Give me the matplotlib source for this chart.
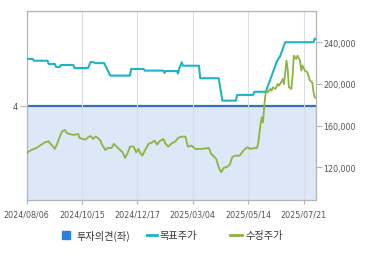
import matplotlib
matplotlib.use("Agg")
import matplotlib.pyplot as plt
from matplotlib.patches import Rectangle
from matplotlib.lines import Line2D

# ---- data (x = trading-day index from 2024/08/06) ----
tick_idx = [0, 45, 90, 135, 180, 225]
tick_labels = ["2024/08/06", "2024/10/15", "2024/12/17", "2025/03/04", "2025/05/14", "2025/07/21"]

rating_x = [0, 235]
rating_v = [4, 4]

target_x = [0, 5, 6, 17, 18, 23, 24, 27, 28, 38, 39, 50, 52, 54, 56, 63, 68, 84, 85, 95, 96,
            111, 112, 113, 122, 123, 124, 126, 127, 140, 141, 156, 159, 170, 171, 184, 185,
            194, 195, 200, 203, 206, 210, 233, 234, 235]
target_v = [224000, 224000, 222300, 222300, 219200, 219200, 216300, 216300, 218200, 218200,
            215300, 215300, 221000, 221000, 220000, 220000, 208000, 208000, 214400, 214400,
            212800, 212800, 210500, 212400, 212400, 210000, 215000, 220800, 217500, 217500,
            205500, 205500, 184000, 184000, 189500, 189500, 192500, 192500, 195000, 211000,
            221000, 227000, 240000, 240000, 243500, 243500]

price_x = [0, 4, 8, 12, 15, 18, 19, 21, 23, 25, 27, 29, 31, 33, 35, 38, 42, 43, 48, 50, 52,
           54, 56, 58, 60, 61, 64, 66, 69, 71, 73, 76, 78, 80, 82, 84, 87, 89, 91, 92, 94, 96,
           99, 102, 104, 106, 108, 111, 113, 115, 118, 121, 123, 126, 129, 131, 134, 137, 142,
           148, 150, 154, 156, 158, 160, 163, 165, 167, 169, 173, 176, 179, 182, 184, 187, 188,
           190, 191, 192, 193, 194, 195, 196, 198, 199, 200, 202, 204, 205, 207, 208, 209, 211,
           212, 213, 215, 216, 217, 219, 220, 222, 223, 224, 226, 228, 230, 232, 233, 234, 235]
price_v = [133800, 136700, 138600, 141800, 144000, 145000, 143100, 140800, 137700, 143100,
           149500, 154600, 155900, 152700, 152000, 151100, 152000, 148200, 146600, 148900,
           150100, 147300, 149500, 148200, 145600, 142500, 136700, 138600, 138600, 142500,
           139900, 136700, 134500, 129000, 133500, 139900, 139900, 134500, 137700, 134500,
           131200, 136000, 142500, 144100, 145600, 141800, 145000, 147300, 142500, 139900,
           143100, 145000, 148200, 149500, 149500, 139900, 140900, 137700, 137700, 138600,
           132900, 128100, 120100, 115300, 119400, 120700, 122600, 129700, 131200, 131200,
           136000, 139300, 137700, 138300, 138600, 142500, 161600, 168000, 163300, 179200,
           190400, 193600, 192000, 195200, 193600, 196800, 195200, 200000, 198400, 202200,
           204800, 200000, 222400, 214400, 196800, 195200, 208000, 227100, 224000, 227100,
           222400, 212800, 217600, 212800, 211200, 203200, 201600, 192000, 187200, 186600]

price_ticks = [120000, 160000, 200000, 240000]

# ---- styling ----
C_RATING = "#3a6fba"
C_FILL = "#dce7f7"
C_SQUARE = "#2d7ddb"
C_TARGET = "#1fb3c6"
C_PRICE = "#8cb43f"
C_SPINE = "#b4b4b4"
C_TEXT = "#555555"

fig = plt.figure(figsize=(3.7, 2.55), dpi=100)
ax = fig.add_axes([26.5 / 370, 1 - 201 / 255, (316 - 26.5) / 370, (201 - 12.5) / 255])
ax.set_xlim(0, 235)
ax.set_ylim(3, 5)
ax.fill_between(rating_x, rating_v, 3, color=C_FILL, lw=0, zorder=1)
ax.plot(rating_x, rating_v, color=C_RATING, lw=1.6, zorder=2)
ax.set_yticks([4])
ax.set_yticklabels(["4"])
for s in ax.spines.values():
    s.set_visible(False)

ax2 = ax.twinx()
ax2.xaxis.set_visible(True)
ax2.set_xlim(0, 235)
ax2.set_ylim(88700, 269500)
ax2.set_xticks(tick_idx)
ax2.set_xticklabels(tick_labels)
ax2.grid(axis="x", color="#d8dde6", lw=0.8, zorder=0)
ax2.plot(target_x, target_v, color=C_TARGET, lw=1.5, zorder=3)
ax2.plot(price_x, price_v, color=C_PRICE, lw=1.3, zorder=4)
ax2.set_yticks(price_ticks)
ax2.set_yticklabels([f"{v:,}" for v in price_ticks])
for s in ax2.spines.values():
    s.set_color(C_SPINE)
    s.set_linewidth(0.9)

ax.tick_params(axis="y", length=5, color=C_SPINE, labelsize=6, labelcolor=C_TEXT, pad=1)
ax.tick_params(axis="x", bottom=False, labelbottom=False)
ax2.tick_params(axis="y", length=4, color=C_SPINE, labelsize=5.8, labelcolor=C_TEXT, pad=1.5)
ax2.tick_params(axis="x", length=3, color=C_SPINE, labelsize=5.8, labelcolor=C_TEXT, pad=4,
                bottom=True, labelbottom=True, top=False, labeltop=False)

# ---- legend ----
kfont = ["Noto Sans CJK KR", "DejaVu Sans"]
W, H = 370, 255
ly = 1 - 236 / H
fig.patches.append(Rectangle((62.3 / W, 1 - 240 / H), 7.7 / W, 7.7 / H,
                             transform=fig.transFigure, color=C_SQUARE, figure=fig))
fig.text(76.5 / W, ly, "투자의견(좌)", family=kfont, fontsize=7.3, color="#333333", va="center")
fig.lines.append(Line2D([146.7 / W, 156.7 / W], [ly, ly], transform=fig.transFigure,
                        color=C_TARGET, lw=2, figure=fig))
fig.text(160 / W, ly, "목표주가", family=kfont, fontsize=7.3, color="#333333", va="center")
fig.lines.append(Line2D([230 / W, 241.7 / W], [ly, ly], transform=fig.transFigure,
                        color=C_PRICE, lw=2, figure=fig))
fig.text(245 / W, ly, "수정주가", family=kfont, fontsize=7.3, color="#333333", va="center")

fig.savefig("out.png", dpi=100)
